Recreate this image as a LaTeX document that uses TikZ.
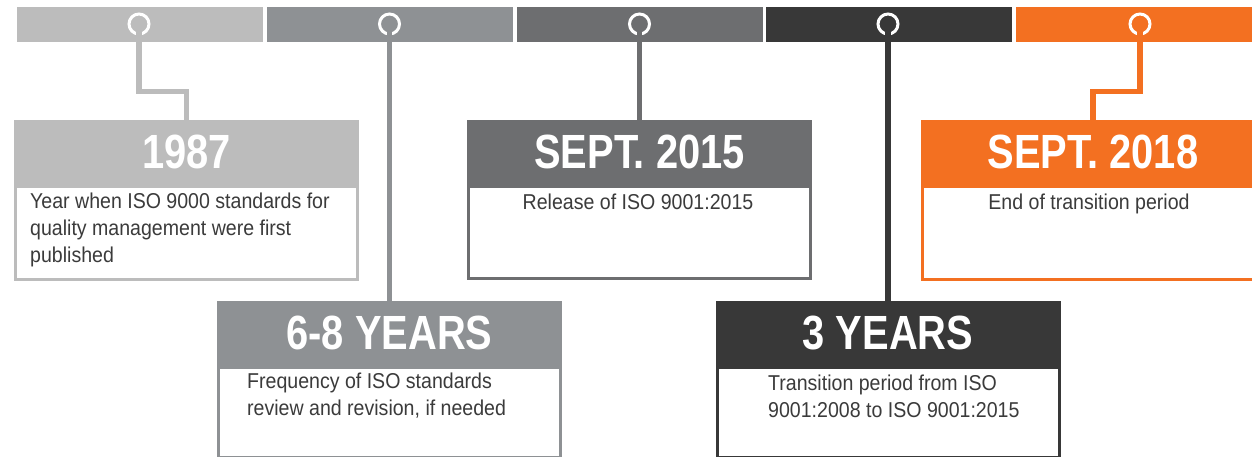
\documentclass[tikz,border=0pt]{standalone}
\usepackage{fontspec}
\setmainfont{Liberation Sans}
\newfontfamily\titlefont[FakeStretch=0.83]{Liberation Sans}
\newfontfamily\bodyfont[FakeStretch=0.91]{Liberation Sans}
\definecolor{cA}{HTML}{BCBCBC}
\definecolor{cB}{HTML}{8E9194}
\definecolor{cC}{HTML}{6D6E70}
\definecolor{cD}{HTML}{383838}
\definecolor{cE}{HTML}{F37021}
\definecolor{txt}{HTML}{3B3B3B}
\tikzset{
 seg/.style={fill=#1, minimum width=246pt, minimum height=35pt, inner sep=0pt, anchor=west},
 ring/.style={circle, draw=white, line width=3pt, minimum size=20pt, inner sep=0pt},
 conn/.style={draw=#1, line width=5.5pt},
 hdr/.style={fill=#1, draw=#1, line width=3pt, minimum width=342pt, minimum height=62pt, inner sep=0pt, anchor=north, text=white, font=\titlefont\bfseries\fontsize{48}{48}\selectfont},
 bodybox/.style 2 args={draw=#1, line width=3pt, fill=white, minimum width=342pt, minimum height=#2, inner sep=0pt, anchor=north},
 body/.style={text=txt, font=\bodyfont\fontsize{21.5}{27}\selectfont, inner sep=0pt, align=left},
}
\begin{document}
\begin{tikzpicture}[x=1pt,y=-1pt]
\useasboundingbox (0,0) rectangle (1252,456);
\fill[white] (0,0) rectangle (1252,456);
\clip (0,0) rectangle (1252,456);
% top bar
\node[seg=cA] (s1) at (17,24.5) {};
\node[seg=cB] (s2) at (267,24.5) {};
\node[seg=cC] (s3) at (516.5,24.5) {};
\node[seg=cD] (s4) at (766,24.5) {};
\node[seg=cE] (s5) at (1016,24.5) {};
% rings
\node[ring] (r1) at (139,24) {};
\node[ring] (r2) at (389.5,24) {};
\node[ring] (r3) at (639.5,24) {};
\node[ring] (r4) at (888,24) {};
\node[ring] (r5) at (1140,24) {};
% headers
\path (186.5,119.5) coordinate (p1) (389.5,300.5) coordinate (p2) (639.5,119.5) coordinate (p3) (888,300.5) coordinate (p4) (1093,119.5) coordinate (p5);
\node[hdr=cA] (h1) at (p1) {1987};
\node[hdr=cB] (h2) at (p2) {6-8 YEARS};
\node[hdr=cC] (h3) at (p3) {SEPT. 2015};
\node[hdr=cD] (h4) at (p4) {3 YEARS};
\node[hdr=cE] (h5) at (p5) {SEPT. 2018};
% connectors
\draw[conn=cA] (r1.center) -- ++(0,67.5) -| (h1.north);
\draw[conn=cB] (r2.center) -- (h2.north);
\draw[conn=cC] (r3.center) -- (h3.north);
\draw[conn=cD] (r4.center) -- (h4.north);
\draw[conn=cE] (r5.center) -- ++(0,67.5) -| (h5.north);
% bodies
\node[bodybox={cA}{93pt}] (b1) at (h1.south) {};
\node[bodybox={cB}{90pt}] (b2) at (h2.south) {};
\node[bodybox={cC}{92pt}] (b3) at (h3.south) {};
\node[bodybox={cD}{90pt}] (b4) at (h4.south) {};
\node[bodybox={cE}{93pt}] (b5) at (h5.south) {};
% body texts
\node[body, anchor=north west] (t1) at (30,192.5) {Year when ISO 9000 standards for\\quality management were first\\published};
\node[body, anchor=north west] (t2) at (247,372.5) {Frequency of ISO standards\\review and revision, if needed};
\node[body, anchor=base] (t3) at (638,209) {Release of ISO 9001:2015};
\node[body, anchor=north west] (t4) at (768,374.5) {Transition period from ISO\\9001:2008 to ISO 9001:2015};
\node[body, anchor=base] (t5) at (1089,209) {End of transition period};
\end{tikzpicture}
\end{document}
